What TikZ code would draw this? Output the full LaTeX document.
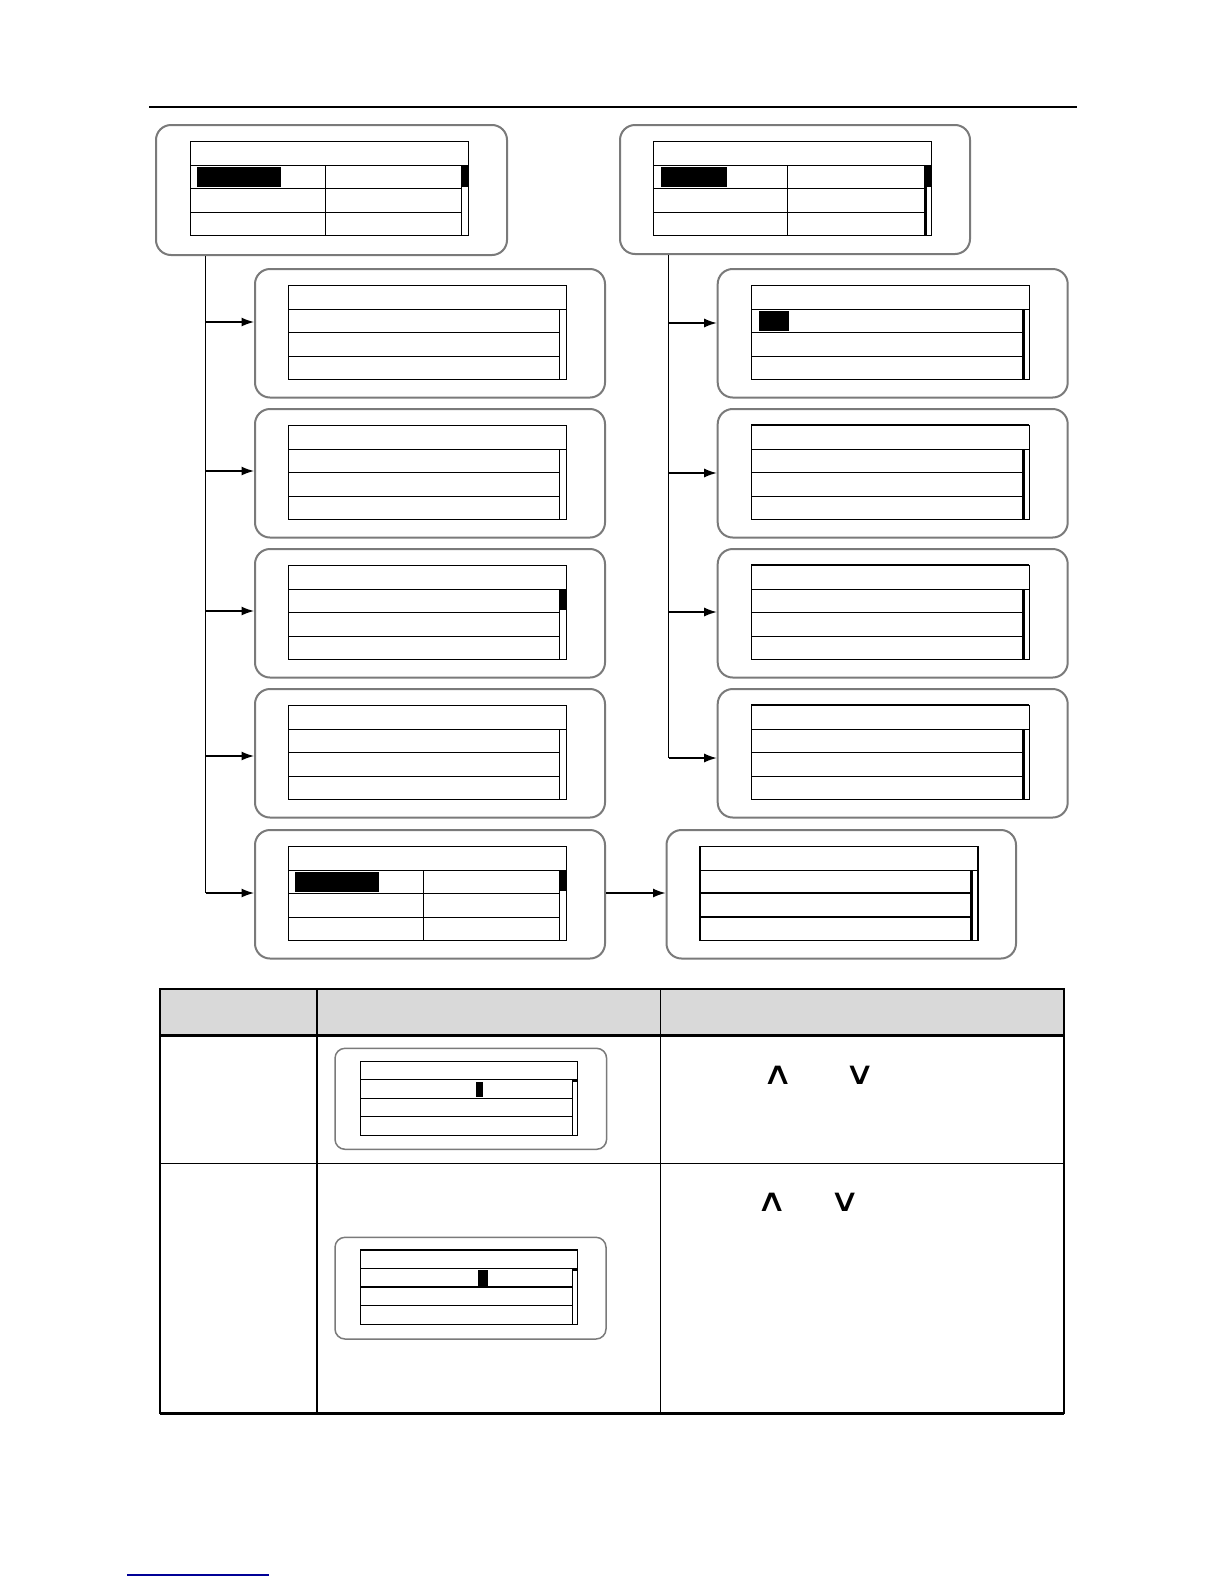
\documentclass[tikz,border=0pt]{standalone}
\usepackage{fontspec}
\newfontfamily\dejavu{DejaVu Sans}
\usetikzlibrary{arrows.meta,fit}
\definecolor{panelgray}{RGB}{122,122,122}
\definecolor{headgray}{RGB}{217,217,217}
\definecolor{linkblue}{RGB}{0,0,150}
\tikzset{
  panel/.style={draw=panelgray, line width=1.2pt, rounded corners=9pt, inner sep=0pt, fill=white},
  smallpanel/.style={draw=panelgray, line width=0.9pt, rounded corners=6pt, inner sep=0pt},
  lcdline/.style={draw=black, line width=0.8pt},
  conn/.style={draw=black, line width=0.8pt, -{Latex[length=7.5pt,width=5.4pt]}},
  trunk/.style={draw=black, line width=0.8pt},
  chev/.style={inner sep=0pt, font=\dejavu\fontsize{19}{19}\selectfont},
}
% standard LCD screen: #1 x-left, #2 y-top (pixel units)
\newcommand\lcdscr[2]{%
  \draw[lcdline] (#1,#2) rectangle ++(278,94);
  \draw[lcdline] (#1,#2+24) -- ++(278,0);
  \draw[lcdline] (#1,#2+47) -- ++(271,0);
  \draw[lcdline] (#1,#2+71) -- ++(271,0);
  \draw[lcdline] (#1+271,#2+24) -- ++(0,70);
}
\newcommand\lcddiv[2]{\draw[lcdline] (#1+134.5,#2+24) -- ++(0,70);}
\newcommand\lcdthumb[2]{\fill[black] (#1+271,#2+24) rectangle ++(7,21);}
\newcommand\lcdthick[2]{\draw[black, line width=1.5pt] (#1+272,#2+24) -- ++(0,70);}
\newcommand\widechev[1]{\scalebox{1.35}[1]{#1}}
\begin{document}
\begin{tikzpicture}[x=0.6pt, y=-0.6pt]
\useasboundingbox[fill=white] (0,0) rectangle (1224,1584);

% top rule
\draw[black, line width=1.2pt] (149,107) -- (1077,107);

% ---------- panels ----------
\node[panel, fit={(156,125)(507,255)}] (TL) {};
\node[panel, fit={(620,125)(970,254)}] (TR) {};
\foreach \n/\t in {1/269,2/409,3/549,4/689,5/830}{
  \node[panel, fit={(255,\t)(605,\t+128.5)}] (L\n) {};
}
\foreach \n/\t in {1/269,2/409,3/549,4/689}{
  \node[panel, fit={(717.7,\t)(1067.7,\t+128.5)}] (R\n) {};
}
\node[panel, fit={(666.5,830)(1016,958.5)}] (R5) {};

% ---------- screens ----------
% top left
\lcdscr{190.7}{141.7}\lcddiv{190.7}{141.7}\lcdthumb{190.7}{141.7}
\fill[black] (197.3,166.7) rectangle (281,187.3);
% top right
\lcdscr{653.3}{141.7}\lcddiv{653.3}{141.7}\lcdthumb{653.3}{141.7}\lcdthick{653.3}{141.7}
\fill[black] (660.7,166.7) rectangle (727.3,186.7);
% left column
\foreach \t in {285.3,425.3,565.3,705.3}{\lcdscr{288.7}{\t}}
\lcdthumb{288.7}{565.3}
\lcdscr{288.7}{846.3}\lcddiv{288.7}{846.3}\lcdthumb{288.7}{846.3}
\fill[black] (295.3,872) rectangle (379.3,891.7);
% right column
\foreach \t in {285.3,425.3,565.3,705.3}{\lcdscr{751.3}{\t}\lcdthick{751.3}{\t}}
\draw[black, line width=1.2pt] (751.3,425.3) -- ++(278,0);
\draw[black, line width=1.2pt] (751.3,565.3) -- ++(278,0);
\draw[black, line width=1.2pt] (751.3,705.3) -- ++(278,0);
\fill[black] (759,310.7) rectangle (789.3,330.7);
% bottom right
\lcdscr{700}{846.3}\lcdthick{700}{846.3}
\draw[black, line width=1.1pt] (700,846.3+47) -- ++(271,0);
\draw[black, line width=1.1pt] (700,846.3+71) -- ++(271,0);

% ---------- connectors ----------
\coordinate (jL1) at (205.7,322);
\coordinate (jL2) at (205.7,471);
\coordinate (jL3) at (205.7,611);
\coordinate (jL4) at (205.7,756);
\coordinate (jL5) at (205.7,893);
\draw[trunk] (TL.south -| jL1) -- (jL5);
\foreach \n in {1,...,5}{\draw[conn] (jL\n) -- (jL\n -| L\n.west);}

\coordinate (jR1) at (668.7,323);
\coordinate (jR2) at (668.7,473);
\coordinate (jR3) at (668.7,612);
\coordinate (jR4) at (668.7,758);
\draw[trunk] (TR.south -| jR1) -- (jR4);
\foreach \n in {1,...,4}{\draw[conn] (jR\n) -- (jR\n -| R\n.west);}

\coordinate (jB) at (605,893);
\draw[conn] (L5.east |- jB) -- (R5.west |- jB);

% ---------- table ----------
\fill[headgray] (160,989) rectangle (1064.3,1035.7);
\draw[black, line width=1.2pt] (160,989) rectangle (1064.3,1413);
\draw[black, line width=1.8pt] (160,1035.7) -- (1064.3,1035.7);
\draw[black, line width=0.9pt] (160,1163.3) -- (1064.3,1163.3);
\draw[black, line width=0.9pt] (317,989) -- (317,1413);
\draw[black, line width=0.9pt] (660.6,989) -- (660.6,1413);
\draw[black, line width=1.8pt] (160,1413) -- (1064.3,1413);

% table screen 1
\node[smallpanel, fit={(335,1048.3)(606.6,1149.3)}] (T1) {};
\draw[lcdline] (360.7,1061.7) rectangle (577.2,1135.3);
\draw[lcdline] (360.7,1079.3) -- (577.2,1079.3);
\draw[lcdline] (360.7,1098.3) -- (572.5,1098.3);
\draw[lcdline] (360.7,1116.3) -- (572.5,1116.3);
\draw[lcdline] (572.5,1079.3) -- (572.5,1135.3);
\fill[black] (572.5,1079.3) rectangle (577.2,1081.5);
\fill[black] (475.7,1082.3) rectangle (483.3,1096.7);
% table screen 2
\node[smallpanel, fit={(335,1237.3)(606,1339)}] (T2) {};
\draw[lcdline] (360.7,1250) rectangle (577.2,1324.3);
\draw[lcdline] (360.7,1268.3) -- (577.2,1268.3);
\draw[lcdline] (360.7,1287) -- (572.5,1287);
\draw[lcdline] (360.7,1305.3) -- (572.5,1305.3);
\draw[lcdline] (572.5,1268.3) -- (572.5,1324.3);
\fill[black] (572.5,1268.3) rectangle (577.2,1270.5);
\fill[black] (478,1270) rectangle (488,1286);

% chevrons
\node[chev] (up1) at (778,1075) {\widechev{∧}};
\node[chev] (dn1) at (860,1075) {\widechev{∨}};
\node[chev] (up2) at (772,1202) {\widechev{∧}};
\node[chev] (dn2) at (845.4,1202) {\widechev{∨}};

% bottom link rule
\draw[linkblue, line width=0.7pt] (127,1575) -- (269,1575);
\end{tikzpicture}
\end{document}
